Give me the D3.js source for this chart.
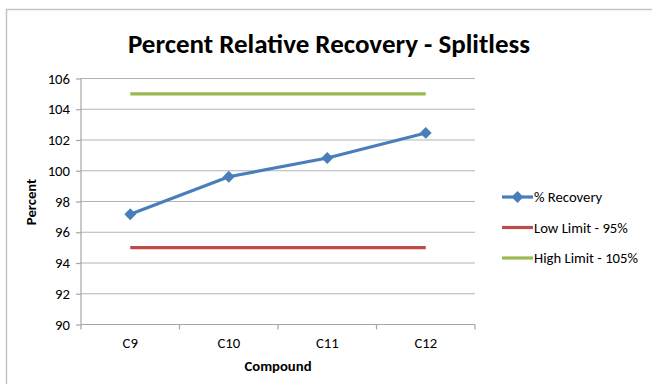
<!DOCTYPE html>
<html><head><meta charset="utf-8">
<script src="https://cdn.jsdelivr.net/npm/d3@7/dist/d3.min.js"></script>
<style>body{margin:0;background:#fff;} text{font-family:Carlito,Lato,"Open Sans",sans-serif;}</style>
</head><body>
<svg id="c" width="652" height="384"></svg>
<script>
const categories = ["C9","C10","C11","C12"];
const recovery = [97.17, 99.61, 100.83, 102.46];
const lowLimit = [95, 95, 95, 95];
const highLimit = [105, 105, 105, 105];
const yTicks = [90,92,94,96,98,100,102,104,106];
const seriesNames = ["% Recovery","Low Limit - 95%","High Limit - 105%"];
const colors = ["#4a7ebb","#be4b48","#98b954"];
const FS = 14.7;

const svg = d3.select("#c");
// frame
svg.append("path").attr("d","M6.5,384 V9.5 H652").attr("fill","none").attr("stroke","#c9c1c5").attr("stroke-width",1.5);

const L=81, R=475, T=78.5, B=324.5;
const x = d3.scaleBand().domain(categories).range([L,R]);
const y = d3.scaleLinear().domain([90,106]).range([B,T]);
const cx = d => x(d)+x.bandwidth()/2;

// gridlines
svg.append("g").selectAll("line").data(yTicks.filter(t=>t!==90)).join("line")
  .attr("x1",L).attr("x2",R).attr("y1",d=>y(d)).attr("y2",d=>y(d))
  .attr("stroke","#b3b3b3").attr("stroke-width",1.2);

// y axis
const ya = svg.append("g").attr("transform",`translate(${L},0)`)
  .call(d3.axisLeft(y).tickValues(yTicks).tickSize(5).tickPadding(6));
ya.selectAll("path,line").attr("stroke","#a6a6a6").attr("stroke-width",1.2);
ya.select(".domain").attr("d",`M0,${T}V${B}`);
ya.selectAll("text").attr("font-size",FS).attr("fill","#000").style("font-family","Carlito,Lato,'Open Sans',sans-serif");

// x axis
const xa = svg.append("g").attr("transform",`translate(0,${B})`)
  .call(d3.axisBottom(x).tickSize(0).tickPadding(13));
xa.select(".domain").attr("stroke","#a6a6a6").attr("stroke-width",1.2).attr("d",`M${L},0H${R}`);
xa.selectAll("text").attr("font-size",FS).attr("fill","#000").style("font-family","Carlito,Lato,'Open Sans',sans-serif");
// x ticks at band boundaries
const bounds = categories.map(c=>x(c)).concat([R]);
xa.selectAll(".bt").data(bounds).join("line").attr("class","bt")
  .attr("x1",d=>d).attr("x2",d=>d).attr("y1",0).attr("y2",5)
  .attr("stroke","#a6a6a6").attr("stroke-width",1.2);

// lines
const line = d3.line().x((d,i)=>cx(categories[i])).y(d=>y(d));
[[highLimit,2],[lowLimit,1],[recovery,0]].forEach(([data,ci])=>{
  svg.append("path").datum(data).attr("d",line).attr("fill","none")
    .attr("stroke",colors[ci]).attr("stroke-width",3.2).attr("stroke-linejoin","round");
});
// markers
const diamond = d3.symbol().type(d3.symbolDiamond2).size(90);
svg.append("g").selectAll("path").data(recovery).join("path")
  .attr("transform",(d,i)=>`translate(${cx(categories[i])},${y(d)})`)
  .attr("d",diamond).attr("fill",colors[0]);

// title
svg.append("text").attr("x",329).attr("y",53).attr("text-anchor","middle")
  .attr("font-size",27).attr("font-weight","bold").text("Percent Relative Recovery - Splitless");
// axis titles
svg.append("text").attr("x",278).attr("y",371).attr("text-anchor","middle")
  .attr("font-size",FS).attr("font-weight","bold").text("Compound");
svg.append("text").attr("transform","translate(36,202) rotate(-90)").attr("text-anchor","middle")
  .attr("font-size",FS).attr("font-weight","bold").text("Percent");

// legend
const lg = svg.append("g");
seriesNames.forEach((n,i)=>{
  const yy = 197 + i*30.5;
  lg.append("line").attr("x1",502).attr("x2",533).attr("y1",yy).attr("y2",yy)
    .attr("stroke",colors[i]).attr("stroke-width",3.2);
  if(i===0) lg.append("path").attr("transform",`translate(517.5,${yy})`).attr("d",diamond).attr("fill",colors[0]);
  lg.append("text").attr("x",534).attr("y",yy+5).attr("font-size",FS).text(n);
});
</script>
</body></html>
